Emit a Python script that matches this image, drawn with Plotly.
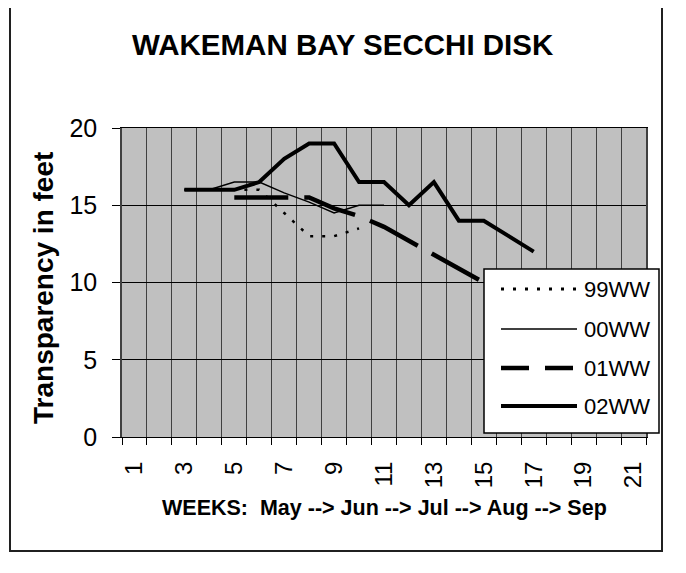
import plotly.graph_objects as go

# ---------------- data ----------------
weeks = list(range(1, 22))
tick_weeks = [1, 3, 5, 7, 9, 11, 13, 15, 17, 19, 21]
series_names = ["99WW", "00WW", "01WW", "02WW"]

v99 = [None, None, 16, 16, 16, 16, 14.5, 13, 13, 13.5, None, None, None, None, None, None, None, None, None, None, None]
v00 = [None, None, 16, 16, 16.5, 16.5, 15.8, 15.2, 14.5, 15, 15, None, None, None, None, None, None, None, None, None, None]
v01 = [None, None, None, None, 15.5, 15.5, 15.5, 15.5, 14.8, 14.3, 13.6, 12.7, 11.8, 10.9, 10, None, None, None, None, None, None]
v02 = [None, None, 16, 16, 16, 16.5, 18, 19, 19, 16.5, 16.5, 15, 16.5, 14, 14, 13, 12, None, None, None, None]
y_ticks = [0, 5, 10, 15, 20]

title_text = "WAKEMAN BAY SECCHI DISK"
y_title = "Transparency in feet"
x_title = "WEEKS:  May --> Jun --> Jul --> Aug --> Sep"

# ---------------- styles ----------------
FONT = "Arial, 'Liberation Sans', sans-serif"
styles = [
    dict(color="black", width=2.5, dash="3px,9px"),
    dict(color="black", width=1.5, dash="solid"),
    dict(color="black", width=4.5, dash="54px,16px"),
    dict(color="black", width=4, dash="solid"),
]
legend_styles = [
    dict(color="black", width=3, dash="3px,9px"),
    dict(color="black", width=1.5, dash="solid"),
    dict(color="black", width=4.5, dash="28px,16px"),
    dict(color="black", width=4, dash="solid"),
]

OFF = 8  # page body margin
W, H = 686 - OFF, 573 - OFF
L, R, T, B = 122 - OFF, 646 - OFF, 128 - OFF, 437 - OFF


def px(x):
    return (x - OFF - L) / (R - L)


def py(y):
    return (B - (y - OFF)) / (B - T)


fig = go.Figure()
for name, vals, st in zip(series_names, [v99, v00, v01, v02], styles):
    fig.add_trace(go.Scatter(x=weeks, y=vals, mode="lines", name=name,
                             line=st, connectgaps=False, showlegend=False,
                             hoverinfo="x+y+name"))

shapes = []
annotations = []
# outer chart border
shapes.append(dict(type="rect", xref="paper", yref="paper",
                   x0=px(10), x1=px(662), y0=py(551), y1=py(7),
                   line=dict(color="#202020", width=2), fillcolor="rgba(0,0,0,0)", layer="below"))
# legend box
shapes.append(dict(type="rect", xref="paper", yref="paper",
                   x0=px(484), x1=px(659), y0=py(433), y1=py(269),
                   line=dict(color="black", width=1.5), fillcolor="white", layer="above"))
row_y = [289, 329, 368, 406]
for name, ly, st in zip(series_names, row_y, legend_styles):
    shapes.append(dict(type="line", xref="paper", yref="paper",
                       x0=px(501), x1=px(577), y0=py(ly), y1=py(ly),
                       line=st, layer="above"))
    annotations.append(dict(text=name, xref="paper", yref="paper",
                            x=px(582), y=py(ly), xanchor="left", yanchor="middle",
                            showarrow=False, font=dict(family=FONT, size=22, color="black")))

annotations.append(dict(text="<b>%s</b>" % title_text, xref="paper", yref="paper",
                        x=px(343), y=py(45), xanchor="center", yanchor="middle",
                        showarrow=False, font=dict(family=FONT, size=29.5, color="black")))
annotations.append(dict(text="<b>%s</b>" % y_title, xref="paper", yref="paper",
                        x=px(43), y=py(288), xanchor="center", yanchor="middle", textangle=-90,
                        showarrow=False, font=dict(family=FONT, size=28, color="black")))
annotations.append(dict(text="<b>%s</b>" % x_title, xref="paper", yref="paper",
                        x=px(384), y=py(508), xanchor="center", yanchor="middle",
                        showarrow=False, font=dict(family=FONT, size=21.5, color="black")))

fig.update_layout(
    width=W, height=H,
    margin=dict(l=L, r=W - R, t=T, b=H - B, pad=0),
    paper_bgcolor="white", plot_bgcolor="#c0c0c0",
    showlegend=False,
    shapes=shapes, annotations=annotations,
    font=dict(family=FONT, color="black"),
)
fig.update_xaxes(
    range=[0.5, 21.5], tickmode="array", tickvals=tick_weeks,
    ticktext=[str(t) for t in tick_weeks], tickangle=-90,
    ticks="", showgrid=False, zeroline=False,
    tickfont=dict(family=FONT, size=24, color="black"),
    showline=True, linecolor="black", linewidth=1, mirror=True,
    ticklabelstandoff=14,
    minor=dict(tickmode="array", tickvals=[w + 0.5 for w in [0] + weeks],
               ticks="outside", ticklen=7, tickcolor="black", tickwidth=1,
               showgrid=True, gridcolor="#404040", gridwidth=1),
)
fig.update_yaxes(
    range=[0, 20], tickmode="array", tickvals=y_ticks,
    ticks="outside", ticklen=8, tickcolor="black",
    showgrid=True, gridcolor="black", gridwidth=1, zeroline=False,
    tickfont=dict(family=FONT, size=25, color="black"),
    showline=True, linecolor="#404040", linewidth=1.5, mirror=True,
    ticklabelstandoff=10,
)

fig.write_html("out.html")
